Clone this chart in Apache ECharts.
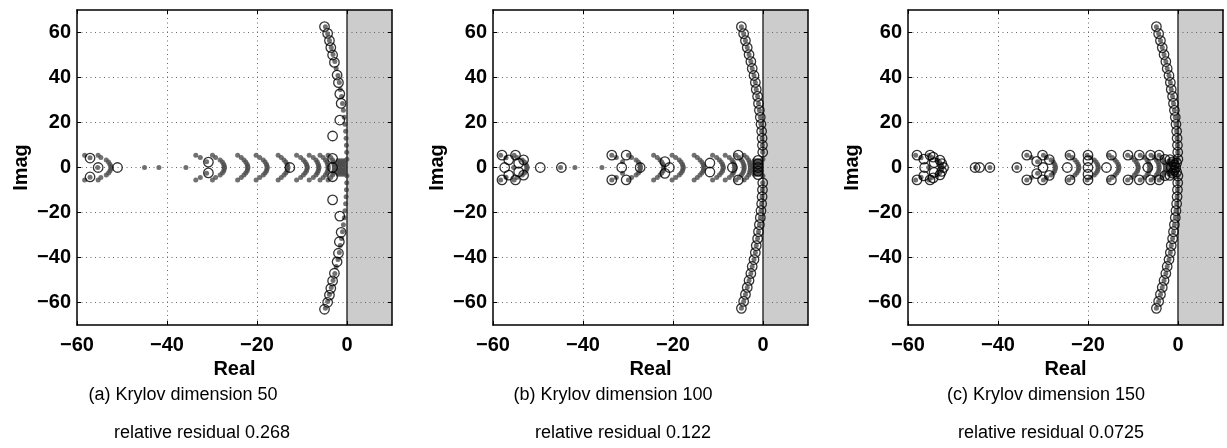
<!DOCTYPE html>
<html><head><meta charset="utf-8">
<script src="https://cdn.jsdelivr.net/npm/echarts@6/dist/echarts.min.js"></script>
<style>html,body{margin:0;padding:0;background:#fff}#c{width:1227px;height:448px}</style>
</head><body><div id="c"></div>
<script>
// ---------- data ----------
const xTicks = [-60, -40, -20, 0];
const yTicks = [-60, -40, -20, 0, 20, 40, 60];
const xGridLines = [-40, -20];

// eigenvalues (grey dots): right arc
const eigArc = [
[-4.8,62.6],[-4.3,59.5],[-3.9,56.4],[-3.5,53.3],[-3.1,50.2],[-2.7,47.1],[-2.4,44.0],[-2.0,40.9],[-1.7,37.8],[-1.5,34.7],
[-1.2,31.6],[-1.0,28.5],[-0.8,25.4],[-0.6,22.3],[-0.45,19.2],[-0.3,16.1],[-0.2,13.0],[-0.12,9.9],[-0.06,6.8],[-0.02,3.7],
[-4.8,-62.6],[-4.3,-59.5],[-3.9,-56.4],[-3.5,-53.3],[-3.1,-50.2],[-2.7,-47.1],[-2.4,-44.0],[-2.0,-40.9],[-1.7,-37.8],[-1.5,-34.7],
[-1.2,-31.6],[-1.0,-28.5],[-0.8,-25.4],[-0.6,-22.3],[-0.45,-19.2],[-0.3,-16.1],[-0.2,-13.0],[-0.12,-9.9],[-0.06,-6.8],[-0.02,-3.7]
];
// eigenvalues (grey dots): clusters along the real axis
const eigClusters = [
[-58.3,5.5],[-58.3,-5.5],[-57.1,4.3],[-57.1,-4.3],[-55.3,5.5],[-55.3,-5.5],[-54.7,4.4],[-54.7,-4.4],[-55.4,0],
[-53.5,3.3],[-53.5,-3.3],[-53.0,2.4],[-53.0,-2.4],[-52.7,1.5],[-52.7,-1.5],[-52.5,0.7],[-52.5,-0.7],[-52.4,0],
[-45.0,0],[-41.8,0],[-35.8,0],
[-33.6,5.5],[-33.6,-5.5],[-32.6,4.4],[-32.6,-4.4],[-31.2,2.6],[-31.2,-2.6],[-29.9,5.5],[-29.9,-5.5],[-29.2,4.4],[-29.2,-4.4],
[-28.2,3.3],[-28.2,-3.3],[-27.7,2.4],[-27.7,-2.4],[-27.4,1.5],[-27.4,-1.5],[-27.3,0.7],[-27.3,-0.7],[-27.2,0],
[-24.3,5.5],[-24.3,-5.5],[-23.5,4.4],[-23.5,-4.4],[-22.9,3.3],[-22.9,-3.3],[-22.5,2.4],[-22.5,-2.4],[-22.2,1.5],[-22.2,-1.5],[-22.1,0.7],[-22.1,-0.7],[-22.0,0],
[-20.2,5.5],[-20.2,-5.5],[-19.4,4.4],[-19.4,-4.4],[-18.6,3.3],[-18.6,-3.3],[-18.2,2.4],[-18.2,-2.4],[-17.9,1.5],[-17.9,-1.5],[-17.8,0.7],[-17.8,-0.7],[-17.7,0],
[-15.3,5.5],[-15.3,-5.5],[-14.6,4.4],[-14.6,-4.4],[-14.0,3.3],[-14.0,-3.3],[-13.6,2.4],[-13.6,-2.4],[-13.3,1.5],[-13.3,-1.5],[-13.2,0.7],[-13.2,-0.7],[-13.1,0],
[-11.2,5.5],[-11.2,-5.5],[-10.3,4.4],[-10.3,-4.4],[-9.7,3.3],[-9.7,-3.3],[-9.3,2.4],[-9.3,-2.4],[-9.0,1.5],[-9.0,-1.5],[-8.9,0.7],[-8.9,-0.7],[-8.8,0],
[-8.4,5.5],[-8.4,-5.5],[-7.5,4.4],[-7.5,-4.4],[-6.9,3.3],[-6.9,-3.3],[-6.6,2.4],[-6.6,-2.4],[-6.4,1.5],[-6.4,-1.5],[-6.3,0.7],[-6.3,-0.7],[-6.2,0],
[-6.0,5.5],[-6.0,-5.5],[-5.3,4.4],[-5.3,-4.4],[-4.8,3.3],[-4.8,-3.3],[-4.5,2.4],[-4.5,-2.4],[-4.3,1.5],[-4.3,-1.5],[-4.2,0.7],[-4.2,-0.7],[-4.2,0],
[-4.2,5.5],[-4.2,-5.5],[-3.6,4.4],[-3.6,-4.4],[-3.2,3.3],[-3.2,-3.3],[-3.0,2.4],[-3.0,-2.4],[-2.9,1.5],[-2.9,-1.5],[-2.8,0.7],[-2.8,-0.7],[-2.8,0],
[-2.0,3.0],[-2.0,-3.0],[-1.5,3.0],[-1.5,-3.0],[-1.0,3.0],[-1.0,-3.0],[-0.5,3.0],[-0.5,-3.0],
[-2.0,2.0],[-2.0,-2.0],[-1.5,2.0],[-1.5,-2.0],[-1.0,2.0],[-1.0,-2.0],[-0.5,2.0],[-0.5,-2.0],
[-2.0,1.0],[-2.0,-1.0],[-1.5,1.0],[-1.5,-1.0],[-1.0,1.0],[-1.0,-1.0],[-0.5,1.0],[-0.5,-1.0],
[-2.0,0],[-1.5,0],[-1.0,0],[-0.5,0]
];

// Ritz values (open circles), Krylov dimension 50
const ritz50 = [
[-5.0,62.6],[-4.3,59.6],[-3.9,56.4],[-3.6,53.3],[-3.2,50.0],[-2.8,46.7],[-2.2,41.1],[-1.9,37.7],[-1.6,32.7],[-1.3,28.5],
[-1.6,21.1],[-3.2,14.0],[-3.2,4.1],[-3.2,0],[-3.2,-4.1],[-3.2,-14.4],[-1.6,-21.6],[-1.3,-28.8],[-1.7,-33.0],[-1.9,-38.1],
[-2.2,-41.9],[-2.8,-47.0],[-3.2,-50.4],[-3.6,-53.7],[-3.9,-56.7],[-4.3,-59.9],[-5.0,-63.0],
[-57.1,4.2],[-57.1,-4.2],[-55.3,0],[-51.0,0],[-30.8,2.4],[-30.8,-2.4],[-12.7,0]
];
// Krylov dimension 100
const ritz100Arc = [
[-4.8,62.6],[-4.3,59.5],[-3.9,56.4],[-3.5,53.3],[-3.1,50.2],[-2.7,47.1],[-2.4,44.0],[-2.0,40.9],[-1.7,37.8],[-1.5,34.7],
[-1.2,31.6],[-1.0,28.5],[-0.8,25.4],[-0.6,22.3],[-0.45,19.2],[-0.3,16.1],[-0.2,13.0],[-0.12,9.9],[-0.06,6.8],
[-4.8,-62.6],[-4.3,-59.5],[-3.9,-56.4],[-3.5,-53.3],[-3.1,-50.2],[-2.7,-47.1],[-2.4,-44.0],[-2.0,-40.9],[-1.7,-37.8],[-1.5,-34.7],
[-1.2,-31.6],[-1.0,-28.5],[-0.8,-25.4],[-0.6,-22.3],[-0.45,-19.2],[-0.3,-16.1],[-0.2,-13.0],[-0.12,-9.9],[-0.06,-6.8]
];
const ritz100Axis = [
[-1.1,3.2],[-1.1,1.6],[-1.1,0],[-1.1,-1.6],[-1.1,-3.2],
[-58.0,5.5],[-58.0,-5.5],[-56.5,3.4],[-56.5,-3.4],[-57.4,0],[-55.0,5.5],[-55.0,-5.5],[-54.3,1.9],[-54.3,-1.9],[-53.2,3.4],[-53.2,-3.4],
[-49.5,0],[-44.8,0],
[-33.6,5.5],[-33.6,-5.5],[-30.4,5.5],[-30.4,-5.5],[-31.4,0],[-27.3,0],
[-21.8,2.6],[-21.8,-2.6],[-20.8,0],
[-11.8,2.0],[-11.8,-2.0],
[-5.5,5.5],[-5.5,-5.5],[-6.8,0]
];
// Krylov dimension 150
const ritz150Arc = [
[-4.8,62.6],[-4.3,59.5],[-3.9,56.4],[-3.5,53.3],[-3.1,50.2],[-2.7,47.1],[-2.4,44.0],[-2.0,40.9],[-1.7,37.8],[-1.5,34.7],
[-1.2,31.6],[-1.0,28.5],[-0.8,25.4],[-0.6,22.3],[-0.45,19.2],[-0.3,16.1],[-0.2,13.0],[-0.12,9.9],[-0.06,6.8],[-0.02,3.7],
[-4.8,-62.6],[-4.3,-59.5],[-3.9,-56.4],[-3.5,-53.3],[-3.1,-50.2],[-2.7,-47.1],[-2.4,-44.0],[-2.0,-40.9],[-1.7,-37.8],[-1.5,-34.7],
[-1.2,-31.6],[-1.0,-28.5],[-0.8,-25.4],[-0.6,-22.3],[-0.45,-19.2],[-0.3,-16.1],[-0.2,-13.0],[-0.12,-9.9],[-0.06,-6.8],[-0.02,-3.7]
];
const ritz150Axis = [
[-1.8,3.5],[-1.8,-3.5],[-1.2,2.5],[-1.2,-2.5],[-0.8,1.2],[-0.8,-1.2],[-0.5,0],[-1.5,0],[-0.3,2.0],[-0.3,-2.0],
[-58.0,5.5],[-58.0,-5.5],[-56.5,3.7],[-56.5,-3.7],[-56.3,0],[-55.1,5.5],[-55.1,-5.5],[-54.2,2.2],[-54.2,-2.2],[-54.4,4.6],[-54.4,-4.6],
[-52.9,3.3],[-52.9,-3.3],[-52.5,1.7],[-52.5,-1.7],[-52.1,0],
[-45.1,0],[-44.1,0],[-41.8,0],[-35.8,0],
[-33.6,5.5],[-33.6,-5.5],[-31.4,2.7],[-31.4,-2.7],[-30.1,5.5],[-30.1,-5.5],[-30.0,0],[-28.6,3.5],[-28.6,-3.5],
[-24.0,5.5],[-24.0,-5.5],[-24.6,0],
[-20.0,5.5],[-20.0,3.0],[-20.0,0],[-20.0,-3.0],[-20.0,-5.5],
[-14.8,5.5],[-14.8,-5.5],[-15.9,0],
[-11.1,5.5],[-11.1,-5.5],
[-8.6,5.5],[-8.6,-5.5],[-6.7,0],
[-6.1,5.5],[-6.1,-5.5],
[-4.2,5.5],[-4.2,-5.5],[-2.9,3.6],[-2.9,-3.6]
];

const captionLine1 = ['(a) Krylov dimension 50', '(b) Krylov dimension 100', '(c) Krylov dimension 150'];
const captionLine2 = ['relative residual 0.268', 'relative residual 0.122', 'relative residual 0.0725'];

// ---------- layout ----------
const gridLefts = [77, 493, 908];
const cap1X = [183, 613, 1046];
const cap2X = [202, 623, 1051];
const ritzSets = [[ritz50], [ritz100Arc, ritz100Axis], [ritz150Arc, ritz150Axis]];

const FONT = '"Liberation Sans", Arial, Helvetica, sans-serif';
const fmt = v => v < 0 ? '\u2212' + Math.abs(v) : String(v);

const grids = [], xAxes = [], yAxes = [], series = [], graphics = [];
gridLefts.forEach((L, i) => {
  grids.push({left: L, top: 10, width: 315, height: 315, show: false});
  const axLine = {show: true, onZero: false, lineStyle: {color: '#000', width: 1.5}};
  const tick = {show: true, inside: true, length: 4, lineStyle: {color: '#000', width: 1}};
  xAxes.push({
    gridIndex: i, type: 'value', min: -60, max: 10, interval: 20, position: 'bottom', z: 10,
    axisLine: axLine, axisTick: Object.assign({customValues: xTicks}, tick),
    axisLabel: {customValues: xTicks, formatter: fmt, margin: 10, color: '#000', fontSize: 20, fontWeight: 'bold', fontFamily: FONT},
    splitLine: {show: false},
    name: 'Real', nameLocation: 'middle', nameGap: 29,
    nameTextStyle: {color: '#000', fontSize: 20, fontWeight: 'bold', fontFamily: FONT}
  });
  xAxes.push({
    gridIndex: i, type: 'value', min: -60, max: 10, interval: 20, position: 'top', z: 10,
    axisLine: axLine, axisTick: Object.assign({customValues: xTicks}, tick),
    axisLabel: {show: false}, splitLine: {show: false}
  });
  yAxes.push({
    gridIndex: i, type: 'value', min: -70, max: 70, interval: 10, position: 'left', z: 10,
    axisLine: axLine, axisTick: Object.assign({customValues: yTicks}, tick),
    axisLabel: {customValues: yTicks, formatter: fmt, margin: 6, color: '#000', fontSize: 20, fontWeight: 'bold', fontFamily: FONT},
    splitLine: {show: false},
    name: 'Imag', nameLocation: 'middle', nameGap: 46, nameRotate: 90,
    nameTextStyle: {color: '#000', fontSize: 20, fontWeight: 'bold', fontFamily: FONT}
  });
  yAxes.push({
    gridIndex: i, type: 'value', min: -70, max: 70, interval: 10, position: 'right', z: 10,
    axisLine: axLine, axisTick: Object.assign({customValues: yTicks}, tick),
    axisLabel: {show: false}, splitLine: {show: false}
  });
  const xi = 2 * i, yi = 2 * i;
  // shaded unstable half-plane
  series.push({
    type: 'scatter', xAxisIndex: xi, yAxisIndex: yi, data: [], z: 1, silent: true,
    markArea: {silent: true, itemStyle: {color: '#cccccc', opacity: 1}, data: [[{xAxis: 0}, {xAxis: 10}]]}
  });
  // dotted grid
  series.push({
    type: 'scatter', xAxisIndex: xi, yAxisIndex: yi, data: [], z: 2, silent: true,
    markLine: {silent: true, symbol: 'none', label: {show: false}, animation: false,
      lineStyle: {color: '#666', width: 1, type: [1, 3.5]},
      data: yTicks.map(v => ({yAxis: v})).concat(xGridLines.map(v => ({xAxis: v})))}
  });
  // imaginary axis line
  series.push({
    type: 'scatter', xAxisIndex: xi, yAxisIndex: yi, data: [], z: 3, silent: true,
    markLine: {silent: true, symbol: 'none', label: {show: false}, animation: false,
      lineStyle: {color: '#333', width: 1.5, type: 'solid'}, data: [{xAxis: 0}]}
  });
  // eigenvalues
  series.push({
    type: 'scatter', xAxisIndex: xi, yAxisIndex: yi, z: 4, silent: true,
    data: eigArc.concat(eigClusters), symbol: 'circle', symbolSize: 5,
    itemStyle: {color: '#4d4d4d'}
  });
  // Ritz values
  ritzSets[i].forEach(arr => {
    series.push({
      type: 'scatter', xAxisIndex: xi, yAxisIndex: yi, z: 5, silent: true,
      data: arr, symbol: 'circle', symbolSize: 9.5,
      itemStyle: {color: 'rgba(0,0,0,0)', borderColor: '#000', borderWidth: 1.3}
    });
  });
  graphics.push({type: 'text', style: {text: captionLine1[i], x: cap1X[i], y: 395, align: 'center', verticalAlign: 'middle', fontSize: 18, fontFamily: FONT, fill: '#000'}});
  graphics.push({type: 'text', style: {text: captionLine2[i], x: cap2X[i], y: 433, align: 'center', verticalAlign: 'middle', fontSize: 18, fontFamily: FONT, fill: '#000'}});
});

const chart = echarts.init(document.getElementById('c'), null, {renderer: 'canvas'});
chart.setOption({
  animation: false,
  backgroundColor: '#fff',
  grid: grids, xAxis: xAxes, yAxis: yAxes, series: series, graphic: graphics
});
</script></body></html>
